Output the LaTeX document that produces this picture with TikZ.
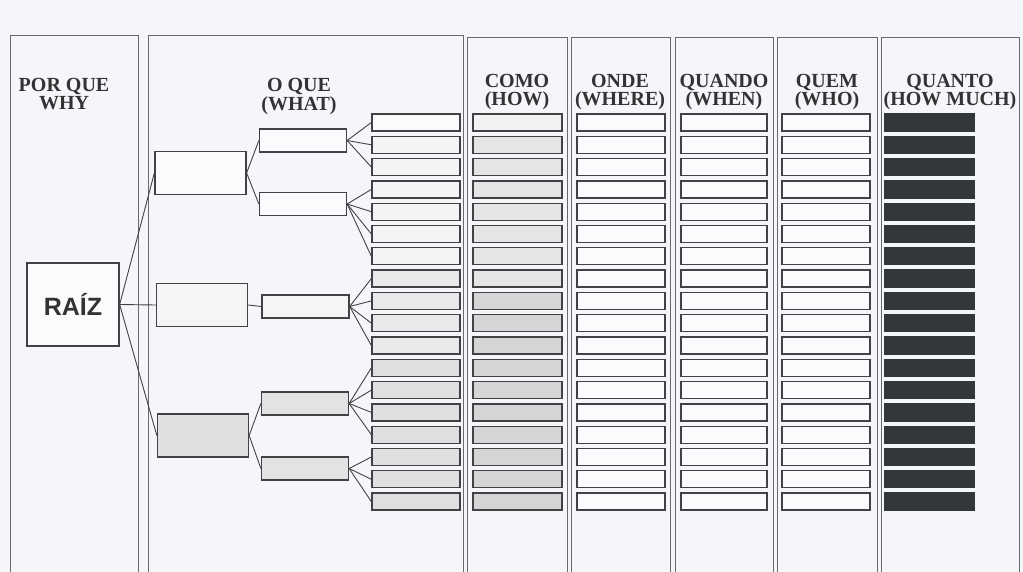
\documentclass[tikz,border=0pt]{standalone}
\usepackage{fontspec}
\setmainfont{Liberation Serif}
\newfontfamily\raizfont{Liberation Sans}
\usepackage{tikz}
\definecolor{papel}{RGB}{244,246,250}
\definecolor{traco}{RGB}{66,66,70}
\definecolor{coluna}{RGB}{105,105,110}
\definecolor{escuro}{RGB}{52,55,58}

\begin{document}
\begin{tikzpicture}[x=1pt, y=-1pt,
  caixa/.style={draw=traco, line width=1.3pt, rectangle, inner sep=0pt},
  folha/.style={caixa, minimum width=88pt, minimum height=17pt},
  ramo/.style={caixa, minimum width=91pt, minimum height=43pt},
  galho/.style={caixa, minimum width=87pt, minimum height=23pt},
  titulo/.style={font=\fontsize{20}{18.5}\selectfont\bfseries, align=center, text=black!80, anchor=base, inner sep=0pt},
  liga/.style={draw=traco, line width=0.9pt}]
  \useasboundingbox (0,0) rectangle (1023,572);
  \clip (0,0) rectangle (1023,572);
  \fill[papel] (0,0) rectangle (1023,572);

  \foreach \xa/\xb/\yt in {10/138/35, 148/463/35, 467/567/37, 571/670/37, 675/773/37, 777/877/37, 881/1019/37}
    \draw[coluna, line width=0.9pt] (\xa,590) -- (\xa,\yt) -- (\xb,\yt) -- (\xb,590);

  \node[titulo] (hporque) at (64,110) {POR QUE\\WHY};
  \node[titulo] (hoque) at (299,110.5) {O QUE\\(WHAT)};
  \node[titulo] (hcomo) at (517,106) {COMO\\(HOW)};
  \node[titulo] (honde) at (620,106) {ONDE\\(WHERE)};
  \node[titulo] (hquando) at (724,106) {QUANDO\\(WHEN)};
  \node[titulo] (hquem) at (827,106) {QUEM\\(WHO)};
  \node[titulo] (hquanto) at (950,106) {QUANTO\\(HOW MUCH)};

  \node[caixa, fill=papel!40!white, minimum width=92pt, minimum height=83pt,
        font=\raizfont\bfseries\fontsize{25}{25}\selectfont, text=black!80] (raiz) at (73,304.5) {RAÍZ};

  \node[ramo, fill=papel!40!white] (ramoA) at (200.5,173) {};
  \node[ramo, fill=gray!8] (ramoB) at (202,305) {};
  \node[ramo, fill=gray!24] (ramoC) at (203,435.5) {};

  \node[galho, fill=papel!40!white] (galhoA) at (303,140.5) {};
  \node[galho, fill=papel!40!white] (galhoB) at (303,204) {};
  \node[galho, fill=gray!8] (galhoC) at (305.5,306.5) {};
  \node[galho, fill=gray!22] (galhoD) at (305,403.5) {};
  \node[galho, fill=gray!22] (galhoE) at (305,468.5) {};

  \foreach \i in {1,...,18} {
    \pgfmathsetmacro\yy{122.5+22.3*(\i-1)}
    \pgfmathtruncatemacro\fl{\i<2 ? 3 : (\i<8 ? 9 : (\i<12 ? 17 : 25))}
    \pgfmathtruncatemacro\fc{\i<2 ? 10 : (\i<9 ? 20 : 33)}
    \node[folha, fill=gray!\fl] (folha\i) at (416,\yy) {};
    \node[folha, minimum width=89pt, fill=gray!\fc] (como\i) at (517.5,\yy) {};
    \node[folha, fill=papel!40!white] (onde\i) at (621,\yy) {};
    \node[folha, minimum width=86pt, fill=papel!40!white] (quando\i) at (724,\yy) {};
    \node[folha, fill=papel!40!white] (quem\i) at (826,\yy) {};
    \node[folha, minimum width=89pt, draw=escuro, fill=escuro] (quanto\i) at (929.5,\yy) {};
  }

  \foreach \r in {ramoA,ramoB,ramoC}
    \draw[liga] (raiz.east) -- (\r.west);
  \draw[liga] (ramoA.east) -- (galhoA.west);
  \draw[liga] (ramoA.east) -- (galhoB.west);
  \draw[liga] (ramoB.east) -- (galhoC.west);
  \draw[liga] (ramoC.east) -- (galhoD.west);
  \draw[liga] (ramoC.east) -- (galhoE.west);
  \foreach \g/\a/\b in {galhoA/1/3, galhoB/4/7, galhoC/8/11, galhoD/12/15, galhoE/16/18}
    \foreach \i in {\a,...,\b}
      \draw[liga] (\g.east) -- (folha\i.west);
\end{tikzpicture}
\end{document}
